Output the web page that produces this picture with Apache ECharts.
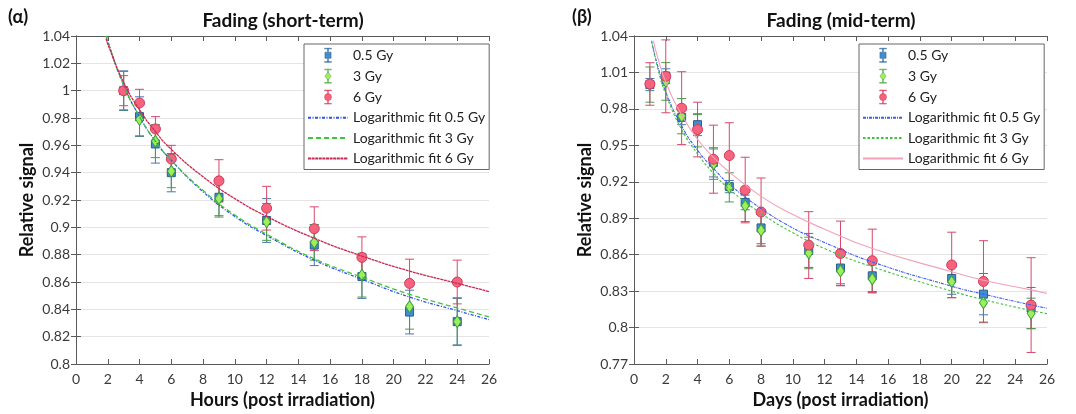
<!DOCTYPE html>
<html>
<head>
<meta charset="utf-8">
<script src="https://cdn.jsdelivr.net/npm/echarts@6/dist/echarts.min.js"></script>
<style>
html, body { margin: 0; background: #fff; }
#charts { width: 1076px; height: 414px; }
</style>
</head>
<body>
<div id="charts"></div>
<script>
var FONT = 'Lato';

// short-term fading (hours)
var hours = [3, 4, 5, 6, 9, 12, 15, 18, 21, 24];
var short05 = [1.000, 0.981, 0.961, 0.940, 0.922, 0.905, 0.887, 0.864, 0.838, 0.831];
var short05Err = [0.0145, 0.0145, 0.014, 0.014, 0.0135, 0.016, 0.015, 0.016, 0.016, 0.017];
var short3 = [1.000, 0.979, 0.963, 0.941, 0.921, 0.904, 0.889, 0.865, 0.842, 0.831];
var short3Err = [0.014, 0.012, 0.012, 0.012, 0.0135, 0.0135, 0.013, 0.016, 0.0165, 0.0175];
var short6 = [1.000, 0.991, 0.972, 0.950, 0.934, 0.914, 0.899, 0.878, 0.859, 0.860];
var short6Err = [0.011, 0.010, 0.009, 0.010, 0.0155, 0.016, 0.016, 0.015, 0.0177, 0.016];

// fitted curves
var hoursFit = [1.9, 2, 3, 4, 5, 6, 8, 10, 12, 15, 18, 21, 24, 26];
var shortFit05 = [1.040, 1.036, 1.004, 0.981, 0.963, 0.949, 0.926, 0.908, 0.894, 0.876, 0.862, 0.849, 0.839, 0.8325];
var shortFit3 = [1.040, 1.036, 1.004, 0.981, 0.963, 0.949, 0.927, 0.909, 0.895, 0.877, 0.8635, 0.851, 0.841, 0.8345];
var shortFit6 = [1.038, 1.034, 1.006, 0.986, 0.970, 0.957, 0.937, 0.921, 0.908, 0.892, 0.879, 0.868, 0.859, 0.853];

// mid-term fading (days)
var days = [1, 2, 3, 4, 5, 6, 7, 8, 11, 13, 15, 20, 22, 25];
var mid05 = [1.000, 1.007, 0.973, 0.967, 0.936, 0.916, 0.903, 0.882, 0.8635, 0.849, 0.8426, 0.8404, 0.8275, 0.816];
var mid05Err = [0.005, 0.006, 0.006, 0.009, 0.012, 0.005, 0.006, 0.013, 0.014, 0.013, 0.013, 0.013, 0.017, 0.017];
var mid3 = [1.000, 1.0026, 0.974, 0.962, 0.9345, 0.9154, 0.9003, 0.880, 0.8614, 0.8466, 0.840, 0.8377, 0.8205, 0.8117];
var mid3Err = [0.0145, 0.0155, 0.0145, 0.0133, 0.0125, 0.012, 0.013, 0.013, 0.013, 0.012, 0.0115, 0.013, 0.0165, 0.0125];
var mid6 = [1.0005, 1.0068, 0.9806, 0.963, 0.9386, 0.9416, 0.9132, 0.8951, 0.8679, 0.861, 0.855, 0.8515, 0.838, 0.8185];
var mid6Err = [0.0175, 0.030, 0.030, 0.0225, 0.028, 0.027, 0.027, 0.028, 0.0275, 0.0266, 0.026, 0.027, 0.0335, 0.039];

var daysFit = [1.1, 1.5, 2, 3, 4, 5, 6, 8, 10, 12, 15, 20, 22, 25, 26];
var midFit05 = [1.036, 1.015, 0.994, 0.966, 0.946, 0.931, 0.918, 0.898, 0.882, 0.870, 0.854, 0.834, 0.8275, 0.8186, 0.816];
var midFit3 = [1.036, 1.013, 0.992, 0.963, 0.943, 0.927, 0.914, 0.894, 0.878, 0.865, 0.850, 0.830, 0.823, 0.814, 0.8115];
var daysFit6 = [1.22, 1.5, 2, 3, 4, 5, 6, 8, 10, 12, 15, 20, 22, 25, 26];
var midFit6 = [1.036, 1.022, 1.002, 0.975, 0.955, 0.940, 0.928, 0.908, 0.893, 0.881, 0.865, 0.846, 0.839, 0.831, 0.828];

var xTicks = [0, 26, 2];
var shortY = [0.8, 1.04, 0.02];
var midY = [0.77, 1.04, 0.03];

function pairs(xs, ys) {
    return xs.map(function (x, i) { return [x, ys[i]]; });
}
function bars(xs, vals, errs) {
    return xs.map(function (x, i) { return [x, vals[i] - errs[i], vals[i] + errs[i]]; });
}

var myChart = echarts.init(document.getElementById('charts'));

var AXIS = '#5a5a5a';
var LABEL = { color: '#3a3a3a', fontFamily: FONT, fontSize: 14 };
var NAME = { color: '#111', fontFamily: FONT, fontSize: 18, fontWeight: 'bold' };

function xAx(gi, top) {
    return {
        type: 'value', gridIndex: gi, position: top ? 'top' : 'bottom',
        min: xTicks[0], max: xTicks[1], interval: xTicks[2],
        name: top ? '' : (gi === 0 ? 'Hours (post irradiation)' : 'Days (post irradiation)'),
        nameLocation: 'middle', nameGap: 27, nameTextStyle: NAME,
        axisLine: { show: true, lineStyle: { color: AXIS, width: 1 } },
        axisTick: { show: true, inside: true, length: 5, lineStyle: { color: AXIS } },
        axisLabel: top ? { show: false } : Object.assign({ margin: 8 }, LABEL),
        splitLine: { show: false }
    };
}
function yAx(gi, right) {
    var r = gi === 0 ? shortY : midY;
    return {
        type: 'value', gridIndex: gi, position: right ? 'right' : 'left',
        min: r[0], max: r[1], interval: r[2],
        name: right ? '' : 'Relative signal',
        nameLocation: 'middle', nameGap: 40, nameTextStyle: NAME,
        axisLine: { show: true, lineStyle: { color: AXIS, width: 1 } },
        axisTick: { show: true, inside: true, length: 5, lineStyle: { color: AXIS } },
        axisLabel: right ? { show: false } : Object.assign({
            margin: 6,
            formatter: function (v) { return String(+v.toFixed(2)); }
        }, LABEL),
        splitLine: { show: !right, lineStyle: { color: '#e4e4e4', width: 1 } }
    };
}

function errSeries(name, gi, data, color) {
    return {
        name: name, type: 'custom', xAxisIndex: gi * 2, yAxisIndex: gi * 2,
        data: data, z: 2, silent: true,
        encode: { x: 0, y: [1, 2] },
        renderItem: function (params, api) {
            var x = api.value(0);
            var lo = api.coord([x, api.value(1)]);
            var hi = api.coord([x, api.value(2)]);
            var w = 4.5;
            return {
                type: 'group', children: [
                    { type: 'line', shape: { x1: lo[0], y1: lo[1], x2: hi[0], y2: hi[1] }, style: { stroke: color, lineWidth: 1 } },
                    { type: 'line', shape: { x1: hi[0] - w, y1: hi[1], x2: hi[0] + w, y2: hi[1] }, style: { stroke: color, lineWidth: 1 } },
                    { type: 'line', shape: { x1: lo[0] - w, y1: lo[1], x2: lo[0] + w, y2: lo[1] }, style: { stroke: color, lineWidth: 1 } }
                ]
            };
        }
    };
}

var MARK = {
    b: { symbol: 'rect', size: 8, fill: '#3f8fd0', edge: '#2c5c8c', bar: '#4a76ad' },
    g: { symbol: 'diamond', size: [8, 12], fill: '#9cf05a', edge: '#3e9a3e', bar: '#4d9a4d' },
    r: { symbol: 'circle', size: 10, fill: '#f6637f', edge: '#d23a5a', bar: '#d8486b' }
};

function pts(name, gi, data, m) {
    return {
        name: name, type: 'scatter', xAxisIndex: gi * 2, yAxisIndex: gi * 2,
        symbol: m.symbol, symbolSize: m.size, z: 3,
        itemStyle: { color: m.fill, borderColor: m.edge, borderWidth: 1, opacity: 1 },
        data: data
    };
}
function fit(name, gi, data, color, type, width) {
    return {
        name: name, type: 'line', xAxisIndex: gi * 2, yAxisIndex: gi * 2,
        smooth: true, showSymbol: false, symbol: 'none', z: 4,
        lineStyle: { color: color, width: width, type: type },
        itemStyle: { color: color },
        data: data
    };
}

// legend icons: marker with an error bar
var BAR = 'M1 0 H9 V0.7 H1 Z M4.6 0.7 H5.4 V4 H4.6 Z M4.6 12 H5.4 V15.3 H4.6 Z M1 15.3 H9 V16 H1 Z ';
var ICON_SQ = 'path://' + BAR + 'M1.5 4.5 H8.5 V11.5 H1.5 Z';
var ICON_DI = 'path://' + BAR + 'M5 3.5 L8.5 8 L5 12.5 L1.5 8 Z';
var ICON_CI = 'path://' + BAR + 'M9 8 A4 4 0 1 1 1 8 A4 4 0 1 1 9 8 Z';

function markItem(name, icon) {
    return { name: name, icon: icon, itemStyle: { borderWidth: 0.5 } };
}
function lineItem(name) {
    return { name: name, itemStyle: { opacity: 0 } };
}

function legend(left, p) {
    return {
        left: left, top: 44, orient: 'vertical',
        itemWidth: 40, itemHeight: 14, itemGap: 6.4,
        padding: [4, 4, 4, 3],
        borderColor: '#666', borderWidth: 1, backgroundColor: '#fff',
        selectedMode: false, symbolKeepAspect: true,
        textStyle: { fontFamily: FONT, fontSize: 14, color: '#222' },
        formatter: function (n) { return n.split('|').pop(); },
        data: [
            markItem(p + '0.5 Gy', ICON_SQ),
            markItem(p + '3 Gy', ICON_DI),
            markItem(p + '6 Gy', ICON_CI),
            lineItem(p + 'Logarithmic fit 0.5 Gy'),
            lineItem(p + 'Logarithmic fit 3 Gy'),
            lineItem(p + 'Logarithmic fit 6 Gy')
        ]
    };
}

var option = {
    backgroundColor: '#fff',
    animation: false,
    grid: [
        { left: 76, top: 36, width: 413, height: 330 },
        { left: 634, top: 36, width: 413, height: 330 }
    ],
    xAxis: [xAx(0, false), xAx(0, true), xAx(1, false), xAx(1, true)],
    yAxis: [yAx(0, false), yAx(0, true), yAx(1, false), yAx(1, true)],
    legend: [legend(304, 'a|'), legend(859, 'b|')],
    graphic: [
        { type: 'text', left: 8, top: 8, style: { text: '(α)', font: 'bold 18px ' + FONT, fill: '#111' } },
        { type: 'text', left: 572, top: 8, style: { text: '(β)', font: 'bold 18px ' + FONT, fill: '#111' } },
        { type: 'text', x: 283, y: 21, style: { text: 'Fading (short-term)', font: 'bold 19px ' + FONT, fill: '#111', textAlign: 'center', textVerticalAlign: 'middle' } },
        { type: 'text', x: 841, y: 21, style: { text: 'Fading (mid-term)', font: 'bold 19px ' + FONT, fill: '#111', textAlign: 'center', textVerticalAlign: 'middle' } }
    ],
    series: [
        errSeries('e|a05', 0, bars(hours, short05, short05Err), MARK.b.bar),
        errSeries('e|a3', 0, bars(hours, short3, short3Err), MARK.g.bar),
        errSeries('e|a6', 0, bars(hours, short6, short6Err), MARK.r.bar),
        pts('a|0.5 Gy', 0, pairs(hours, short05), MARK.b),
        pts('a|3 Gy', 0, pairs(hours, short3), MARK.g),
        pts('a|6 Gy', 0, pairs(hours, short6), MARK.r),
        fit('a|Logarithmic fit 0.5 Gy', 0, pairs(hoursFit, shortFit05), '#2f4ff0', [3, 1.5, 1, 1.5], 1.3),
        fit('a|Logarithmic fit 3 Gy', 0, pairs(hoursFit, shortFit3), '#3ec43e', [5, 3], 1.3),
        fit('a|Logarithmic fit 6 Gy', 0, pairs(hoursFit, shortFit6), '#c92a55', [3, 0.6], 1.3),

        errSeries('e|b05', 1, bars(days, mid05, mid05Err), MARK.b.bar),
        errSeries('e|b3', 1, bars(days, mid3, mid3Err), MARK.g.bar),
        errSeries('e|b6', 1, bars(days, mid6, mid6Err), MARK.r.bar),
        pts('b|0.5 Gy', 1, pairs(days, mid05), MARK.b),
        pts('b|3 Gy', 1, pairs(days, mid3), MARK.g),
        pts('b|6 Gy', 1, pairs(days, mid6), MARK.r),
        fit('b|Logarithmic fit 0.5 Gy', 1, pairs(daysFit, midFit05), '#3b5cf5', [3, 1, 1, 1], 1.1),
        fit('b|Logarithmic fit 3 Gy', 1, pairs(daysFit, midFit3), '#40c040', [2.5, 2], 1.1),
        fit('b|Logarithmic fit 6 Gy', 1, pairs(daysFit6, midFit6), '#f2a2b6', 'solid', 1.1)
    ]
};

myChart.setOption(option);
</script>
</body>
</html>
